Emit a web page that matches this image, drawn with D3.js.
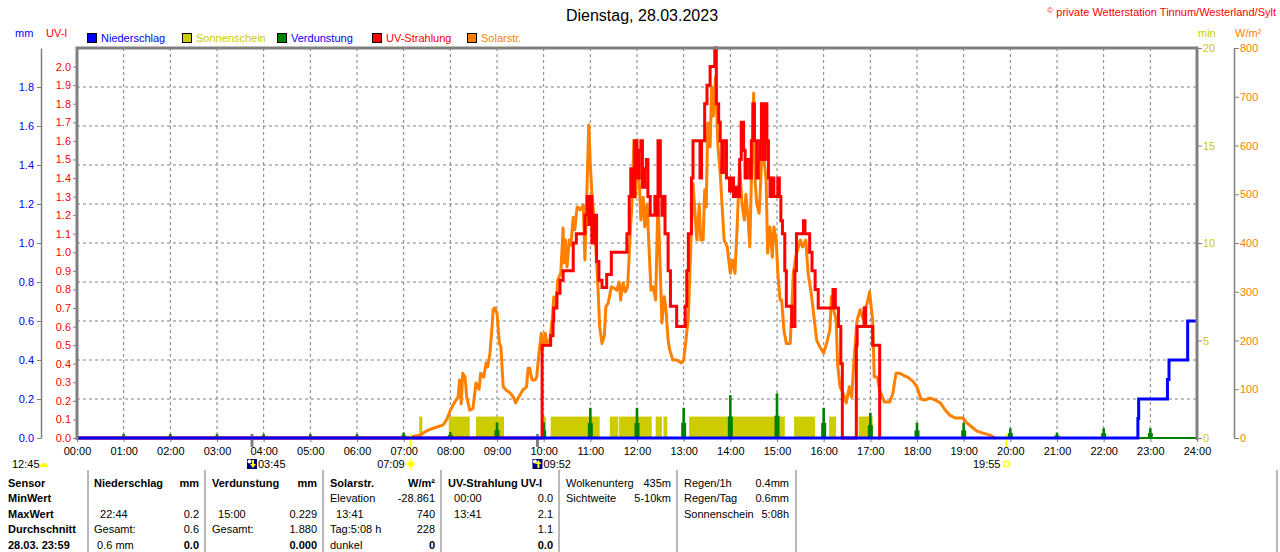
<!DOCTYPE html>
<meta charset="utf-8">
<head>
  <title>Dienstag, 28.03.2023</title>
  <style>
    body { margin: 0; background: #fff; }
    svg text { font-family: "Liberation Sans", Arial, sans-serif; font-size: 11px; }
  </style>
</head>
<body>
<script src="https://cdnjs.cloudflare.com/ajax/libs/d3/7.8.5/d3.min.js"></script>
<script>
var WIDTH = 1280,
    HEIGHT = 552,
    LEFT = 77,
    RIGHT = 1197,
    TOP = 48,
    BOTTOM = 438;

// ---- data ----
var hourTicks = d3.range(0, 25);
var mmTicks = [0, 0.2, 0.4, 0.6, 0.8, 1.0, 1.2, 1.4, 1.6, 1.8];
var uvTicks = d3.range(0, 21).map(function(d) { return d / 10; });
var minTicks = [0, 5, 10, 15, 20];
var wTicks = [0, 100, 200, 300, 400, 500, 600, 700, 800];

// Niederschlag, cumulative mm
var precipTime = ["00:00", "22:44", "22:45", "23:22", "23:24", "23:48", "24:00"];
var precipMm   = [0, 0.1, 0.2, 0.3, 0.4, 0.6, 0.6];

// Verdunstung per hour, mm
var evapHour = [1, 2, 3, 4, 5, 6, 7, 8, 9, 10, 11, 12, 13, 14, 15, 16, 17, 18, 19, 20, 21, 22, 23];
var evapMm   = [0.02, 0.02, 0.02, 0.02, 0.02, 0.02, 0.027, 0.03, 0.08, 0.08, 0.155, 0.155, 0.155,
                0.22, 0.229, 0.155, 0.13, 0.078, 0.078, 0.05, 0.027, 0.05, 0.05];

// Sonnenschein, min
var sunFrom = ["07:20", "07:58", "08:33", "09:59", "10:09", "11:25", "11:37", "12:24", "12:34", "13:07", "15:22", "16:07", "16:45"];
var sunTo   = ["07:24", "08:25", "09:09", "10:03", "11:12", "11:36", "12:19", "12:32", "12:39", "15:10", "15:49", "16:16", "17:03"];
var sunMin  = [1.1, 1.1, 1.1, 1.1, 1.1, 1.1, 1.1, 1.1, 1.1, 1.1, 1.1, 1.1, 1.1];

// UV-Strahlung, UV-I
var uvTime = ["00:00", "09:58", "10:09", "10:12", "10:13", "10:17", "10:21", "10:25", "10:38", "10:42",
  "10:53", "10:56", "10:58", "11:00", "11:02", "11:05", "11:08", "11:11", "11:15", "11:21", "11:27",
  "11:47", "11:50", "11:52", "11:55", "11:57", "12:00", "12:03", "12:05", "12:07", "12:10", "12:12",
  "12:14", "12:17", "12:23", "12:25", "12:27", "12:30", "12:32", "12:34", "12:36", "12:40", "12:43",
  "12:51", "13:02", "13:04", "13:06", "13:10", "13:12", "13:21", "13:23", "13:27", "13:30", "13:34",
  "13:40", "13:42", "13:45", "13:47", "13:49", "13:51", "13:55", "13:59", "14:01", "14:04", "14:07",
  "14:09", "14:12", "14:14", "14:17", "14:19", "14:21", "14:25", "14:27", "14:29", "14:31", "14:34",
  "14:36", "14:38", "14:40", "14:42", "14:45", "14:47", "14:49", "14:51", "14:54", "14:56", "15:01",
  "15:03", "15:05", "15:07", "15:10", "15:12", "15:19", "15:23", "15:25", "15:34", "15:36", "15:42",
  "15:45", "15:49", "15:53", "16:12", "16:15", "16:19", "16:22", "16:24", "16:42", "16:43", "16:52",
  "16:54", "17:03", "17:12", "17:13"];
var uvIndex = [0, 0.5, 0.55, 0.63, 0.7, 0.78, 0.85, 0.9, 1.05, 1.1,
  1.2, 1.3, 1.15, 1.3, 1.05, 1.2, 0.95, 0.85, 0.81, 0.88, 1.0,
  1.1, 1.3, 1.45, 1.3, 1.6, 1.4, 1.55, 1.6, 1.35, 1.45, 1.5,
  1.3, 1.2, 1.3, 1.2, 1.6, 1.3, 1.2, 1.3, 1.1, 0.9, 0.71,
  0.6, 0.71, 0.9, 1.1, 1.4, 1.6, 1.4, 1.6, 1.8, 1.9, 2.0,
  2.1, 1.8, 1.7, 1.6, 1.43, 1.6, 1.4, 1.33, 1.4, 1.3, 1.35,
  1.3, 1.5, 1.7, 1.55, 1.4, 1.5, 1.4, 1.6, 1.8, 1.6, 1.4,
  1.5, 1.6, 1.8, 1.5, 1.8, 1.6, 1.4, 1.3, 1.4, 1.3, 1.4,
  1.3, 1.17, 1.1, 0.9, 0.71, 0.6, 0.9, 1.1, 1.17, 1.1, 1.0,
  0.9, 0.8, 0.7, 0.8, 0.7, 0.6, 0.4, 0, 0.5, 0.6, 0.7,
  0.6, 0.5, 0, 0];

// Solarstrahlung, W/m2
var solarTime = ["00:00", "07:09", "07:12", "07:21", "07:30", "07:38", "07:51", "07:56", "08:00", "08:05",
  "08:10", "08:12", "08:14", "08:16", "08:19", "08:21", "08:25", "08:29", "08:33", "08:37", "08:39",
  "08:43", "08:46", "08:48", "08:51", "08:54", "08:55", "08:57", "09:00", "09:03", "09:05", "09:08",
  "09:12", "09:17", "09:21", "09:24", "09:28", "09:33", "09:38", "09:40", "09:42", "09:45", "09:49",
  "09:51", "09:54", "09:57", "09:59", "10:02", "10:04", "10:08", "10:11", "10:13", "10:16", "10:18",
  "10:22", "10:25", "10:26", "10:28", "10:30", "10:33", "10:35", "10:38", "10:40", "10:43", "10:47",
  "10:51", "10:53", "10:56", "10:58", "11:00", "11:02", "11:05", "11:07", "11:10", "11:12", "11:15",
  "11:18", "11:20", "11:23", "11:27", "11:30", "11:34", "11:37", "11:39", "11:42", "11:45", "11:48",
  "11:51", "11:54", "11:56", "11:58", "12:00", "12:03", "12:05", "12:08", "12:10", "12:13", "12:15",
  "12:18", "12:21", "12:24", "12:27", "12:30", "12:32", "12:35", "12:37", "12:40", "12:42", "12:46",
  "12:51", "12:57", "13:00", "13:03", "13:06", "13:08", "13:10", "13:12", "13:15", "13:17", "13:20",
  "13:22", "13:25", "13:27", "13:29", "13:31", "13:34", "13:36", "13:38", "13:41", "13:43", "13:44",
  "13:47", "13:49", "13:52", "13:56", "14:00", "14:03", "14:06", "14:09", "14:11", "14:12", "14:15",
  "14:18", "14:20", "14:23", "14:25", "14:28", "14:30", "14:32", "14:34", "14:37", "14:39", "14:41",
  "14:43", "14:46", "14:48", "14:51", "14:54", "14:56", "14:59", "15:01", "15:04", "15:06", "15:09",
  "15:12", "15:17", "15:21", "15:24", "15:30", "15:33", "15:37", "15:40", "15:44", "15:48", "15:51",
  "15:55", "16:00", "16:04", "16:08", "16:10", "16:12", "16:16", "16:18", "16:21", "16:25", "16:29",
  "16:33", "16:36", "16:39", "16:43", "16:47", "16:51", "16:53", "16:56", "16:59", "17:01", "17:03",
  "17:05", "17:09", "17:12", "17:18", "17:25", "17:29", "17:33", "17:38", "17:43", "17:48", "17:55",
  "18:00", "18:05", "18:10", "18:17", "18:23", "18:30", "18:36", "18:42", "18:49", "18:59", "19:04",
  "19:11", "19:17", "19:27", "19:34", "19:40", "19:41"];
var solarWm2 = [0, 0, 3, 6, 15, 20, 27, 40, 57, 72,
  84, 119, 70, 133, 125, 84, 57, 60, 113, 100, 133,
  125, 154, 146, 174, 236, 263, 267, 256, 195, 187, 105,
  98, 92, 84, 72, 84, 98, 105, 143, 143, 119, 119,
  125, 174, 215, 187, 215, 195, 201, 242, 289, 269, 324,
  338, 431, 359, 406, 351, 406, 396, 453, 427, 474, 468,
  478, 365, 529, 642, 560, 502, 447, 392, 303, 228, 194,
  210, 269, 277, 310, 308, 303, 320, 283, 318, 300, 310,
  412, 494, 611, 494, 560, 523, 447, 494, 433, 480, 406,
  303, 310, 283, 494, 338, 236, 290, 269, 201, 181, 160,
  160, 154, 160, 201, 248, 338, 433, 523, 450, 406, 480,
  406, 406, 509, 474, 646, 597, 720, 660, 740, 646, 600,
  543, 488, 406, 392, 338, 365, 338, 441, 529, 556, 480,
  447, 500, 447, 392, 591, 707, 523, 480, 461, 523, 611,
  577, 529, 379, 433, 371, 433, 406, 340, 283, 283, 220,
  194, 194, 338, 371, 406, 392, 406, 338, 297, 242, 201,
  187, 174, 195, 222, 290, 269, 242, 150, 105, 92, 72,
  105, 84, 160, 242, 263, 242, 263, 277, 300, 270, 242,
  125, 125, 98, 74, 74, 92, 133, 133, 128, 125, 116,
  105, 80, 78, 82, 78, 72, 58, 47, 41, 41, 31,
  22, 14, 9, 6, 0, 0];

var legendNames = ["Niederschlag", "Sonnenschein", "Verdunstung", "UV-Strahlung", "Solarstr."];
var legendFill  = ["#0000ff", "#cccc00", "#008000", "#ff0000", "#ff8000"];
var legendText  = ["#0000ff", "#cccc00", "#0000ff", "#ff0000", "#ff8000"];

// sun / moon events under the time axis
var eventTime = ["03:45", "07:09", "09:52", "19:55"];
var eventKind = ["moonset", "sunrise", "moonrise", "sunset"];

// table below the chart
var sensorRows = ["Sensor", "MinWert", "MaxWert", "Durchschnitt", "28.03. 23:59"];
var precipCol = [["Niederschlag", "mm"], ["", ""], ["  22:44", "0.2"], ["Gesamt:", "0.6"], [" 0.6 mm", "0.0"]];
var evapCol   = [["Verdunstung", "mm"], ["", ""], ["  15:00", "0.229"], ["Gesamt:", "1.880"], ["", "0.000"]];
var solarCol  = [["Solarstr.", "W/m\u00b2"], ["Elevation", "-28.861"], ["  13:41", "740"], ["Tag:5:08 h", "228"], ["dunkel", "0"]];
var uvCol     = [["UV-Strahlung UV-I", ""], ["  00:00", "0.0"], ["  13:41", "2.1"], ["", "1.1"], ["", "0.0"]];
var cloudCol  = [["Wolkenunterg", "435m"], ["Sichtweite", "5-10km"]];
var rainCol   = [["Regen/1h", "0.4mm"], ["Regen/Tag", "0.6mm"], ["Sonnenschein", "5:08h"]];

// ---- helpers ----
function hours(s) {
  var p = s.split(":");
  return +p[0] + (+p[1]) / 60;
}
function zip(t, v) {
  return t.map(function(d, i) { return { t: hours(d), v: v[i] }; });
}

var svg = d3.select("body").append("svg")
    .attr("width", WIDTH)
    .attr("height", HEIGHT);

var x = d3.scaleLinear().domain([0, 24]).range([LEFT, RIGHT]);
var yMm = d3.scaleLinear().domain([0, 2.0]).range([BOTTOM, TOP]);
var yUv = d3.scaleLinear().domain([0, 2.1]).range([BOTTOM, TOP]);
var yMin = d3.scaleLinear().domain([0, 20]).range([BOTTOM, TOP]);
var yW = d3.scaleLinear().domain([0, 800]).range([BOTTOM, TOP]);

// title & header texts
svg.append("text").attr("x", 642).attr("y", 21).attr("text-anchor", "middle")
    .style("font-size", "16px").text("Dienstag, 28.03.2023");

var copy = svg.append("text").attr("x", 1276).attr("y", 16).attr("text-anchor", "end")
    .attr("fill", "#ff0000");
copy.append("tspan").style("font-size", "8px").attr("dy", -3).text("\u00a9");
copy.append("tspan").attr("dy", 3).text(" private Wetterstation Tinnum/Westerland/Sylt");

svg.append("text").attr("x", 15).attr("y", 37).attr("fill", "#0000ff").text("mm");
svg.append("text").attr("x", 46).attr("y", 37).attr("fill", "#ff0000").text("UV-I");
svg.append("text").attr("x", 1198).attr("y", 37).attr("fill", "#cccc00").text("min");
svg.append("text").attr("x", 1235).attr("y", 37).attr("fill", "#ff8000").text("W/m\u00b2");

var legend = svg.append("g").selectAll("g").data(legendNames).join("g")
    .attr("transform", function(d, i) { return "translate(" + (87 + i * 95) + ",33)"; });
legend.append("rect").attr("x", 0.5).attr("y", 0.5).attr("width", 9).attr("height", 9)
    .attr("fill", function(d, i) { return legendFill[i]; })
    .attr("stroke", "#000");
legend.append("text").attr("x", 14).attr("y", 9)
    .attr("fill", function(d, i) { return legendText[i]; })
    .text(function(d) { return d; });

// grid
var grid = svg.append("g").attr("stroke", "#808080").attr("stroke-dasharray", "3,3");
grid.selectAll("line.v").data(hourTicks.slice(1, 24)).join("line")
    .attr("x1", function(d) { return x(d); }).attr("x2", function(d) { return x(d); })
    .attr("y1", TOP).attr("y2", BOTTOM);
grid.selectAll("line.h").data(mmTicks.slice(1)).join("line")
    .attr("x1", LEFT).attr("x2", RIGHT)
    .attr("y1", function(d) { return yMm(d); }).attr("y2", function(d) { return yMm(d); });

// axes
function styleAxis(g, color) {
  g.selectAll(".domain").attr("stroke", "#808080").attr("stroke-width", 1.5);
  g.selectAll(".tick line").attr("stroke", "#808080");
  g.selectAll(".tick text").attr("fill", color).style("font-size", "11px")
      .style("font-family", '"Liberation Sans", Arial, sans-serif');
}
var fmt1 = d3.format(".1f");

svg.append("g").attr("transform", "translate(41,0)")
    .call(d3.axisLeft(yMm).tickValues(mmTicks).tickFormat(fmt1).tickSize(4).tickPadding(3).tickSizeOuter(0))
    .call(styleAxis, "#0000ff");

svg.append("g").attr("transform", "translate(" + LEFT + ",0)")
    .call(d3.axisLeft(yUv).tickValues(uvTicks).tickFormat(fmt1).tickSize(4).tickPadding(2).tickSizeOuter(0))
    .call(styleAxis, "#ff0000")
    .call(function(g) { g.select(".domain").remove(); });

svg.append("g").attr("transform", "translate(" + RIGHT + ",0)")
    .call(d3.axisRight(yMin).tickValues(minTicks).tickSize(5).tickPadding(1).tickSizeOuter(0))
    .call(styleAxis, "#cccc00")
    .call(function(g) { g.select(".domain").remove(); });

svg.append("g").attr("transform", "translate(1234,0)")
    .call(d3.axisRight(yW).tickValues(wTicks).tickSize(5).tickPadding(1).tickSizeOuter(0))
    .call(styleAxis, "#ff8000");

svg.append("g").attr("transform", "translate(0," + BOTTOM + ")")
    .call(d3.axisBottom(x).tickValues(hourTicks)
      .tickFormat(function(d) { return d3.format("02")(d) + ":00"; })
      .tickSize(4).tickPadding(5).tickSizeOuter(0))
    .call(styleAxis, "#000")
    .call(function(g) { g.select(".domain").remove(); });

// Sonnenschein bars
svg.append("g").attr("fill", "#cccc00").selectAll("rect")
    .data(sunFrom.map(function(d, i) { return { a: hours(d), b: hours(sunTo[i]), v: sunMin[i] }; }))
    .join("rect")
    .attr("x", function(d) { return x(d.a); })
    .attr("width", function(d) { return x(d.b) - x(d.a); })
    .attr("y", function(d) { return yMin(d.v); })
    .attr("height", function(d) { return yMin(0) - yMin(d.v); });

// Verdunstung hourly spikes
var evap = svg.append("g").attr("fill", "#008000").selectAll("g")
    .data(evapHour.map(function(h, i) { return { h: h, v: evapMm[i] }; }))
    .join("g");
evap.append("rect")
    .attr("x", function(d) { return x(d.h) - 2.5; }).attr("width", 5)
    .attr("y", function(d) { return yMm(d.v / 2); })
    .attr("height", function(d) { return yMm(0) - yMm(d.v / 2); });
evap.append("rect")
    .attr("x", function(d) { return x(d.h) - 1.3; }).attr("width", 2.6)
    .attr("y", function(d) { return yMm(d.v); })
    .attr("height", function(d) { return yMm(0) - yMm(d.v); });

// Solarstrahlung
svg.append("path").datum(zip(solarTime, solarWm2))
    .attr("fill", "none").attr("stroke", "#ff8000").attr("stroke-width", 3)
    .attr("stroke-linejoin", "round")
    .attr("d", d3.line().x(function(d) { return x(d.t); }).y(function(d) { return yW(d.v); }));

// UV-Strahlung
svg.append("path").datum(zip(uvTime, uvIndex))
    .attr("fill", "none").attr("stroke", "#ff0000").attr("stroke-width", 3)
    .attr("d", d3.line().curve(d3.curveStepAfter)
      .x(function(d) { return x(d.t); }).y(function(d) { return yUv(d.v); }));

// Verdunstung baseline
svg.append("line").attr("x1", x(0)).attr("x2", x(24)).attr("y1", yMm(0)).attr("y2", yMm(0))
    .attr("stroke", "#008000").attr("stroke-width", 2);

// event markers on the time axis
var ev = svg.append("g").selectAll("g")
    .data(eventTime.map(function(d, i) { return { t: hours(d), label: d, kind: eventKind[i] }; }))
    .join("g");
ev.append("line")
    .attr("x1", function(d) { return x(d.t); }).attr("x2", function(d) { return x(d.t); })
    .attr("y1", 434).attr("y2", 447)
    .attr("stroke", function(d) { return d.kind.indexOf("moon") === 0 ? "#808080" : "#ffff00"; })
    .attr("stroke-width", function(d) { return d.kind.indexOf("moon") === 0 ? 3 : 2; });

ev.each(function(d) {
  var g = d3.select(this), cx = x(d.t);
  if (d.kind.indexOf("moon") === 0) {
    g.append("rect").attr("x", cx - 5).attr("y", 459).attr("width", 10).attr("height", 10)
        .attr("fill", "#00007f");
    g.append("circle").attr("cx", cx - 2.5).attr("cy", 461.5).attr("r", 2).attr("fill", "#fff");
    var up = d.kind === "moonrise";
    g.append("path").attr("fill", "#ffff00")
        .attr("d", up
          ? "M" + (cx + 1) + ",460 l3,4 h-2 v4 h-2 v-4 h-2 z"
          : "M" + (cx + 1) + ",468 l3,-4 h-2 v-4 h-2 v4 h-2 z");
    g.append("text").attr("x", cx + 6).attr("y", 468).text(d.label);
  } else {
    if (d.kind === "sunrise") {
      g.append("circle").attr("cx", cx).attr("cy", 464).attr("r", 3).attr("fill", "#ffff00");
      g.selectAll("line.ray").data(d3.range(8)).join("line")
          .attr("x1", function(k) { return cx + 3.5 * Math.cos(k * Math.PI / 4); })
          .attr("y1", function(k) { return 464 + 3.5 * Math.sin(k * Math.PI / 4); })
          .attr("x2", function(k) { return cx + 5.5 * Math.cos(k * Math.PI / 4); })
          .attr("y2", function(k) { return 464 + 5.5 * Math.sin(k * Math.PI / 4); })
          .attr("stroke", "#ffff00");
    } else {
      g.append("rect").attr("x", cx - 2.5).attr("y", 461.5).attr("width", 5).attr("height", 5)
          .attr("fill", "none").attr("stroke", "#ffff00").attr("stroke-width", 1.2);
    }
    g.append("text").attr("x", cx - 6).attr("y", 468).attr("text-anchor", "end").text(d.label);
  }
});

svg.append("text").attr("x", 12).attr("y", 468).text("12:45");
svg.append("path").attr("fill", "#ffff00").attr("d", "M40,467 a4,4 0 0 1 8,0 z");

// Niederschlag (drawn last, it lies on the baseline)
svg.append("path").datum(zip(precipTime, precipMm))
    .attr("fill", "none").attr("stroke", "#0000ff").attr("stroke-width", 3)
    .attr("d", d3.line().curve(d3.curveStepAfter)
      .x(function(d) { return x(d.t); }).y(function(d) { return yMm(d.v); }));

// frame
svg.append("path").attr("fill", "none").attr("stroke", "#808080").attr("stroke-width", 3)
    .attr("d", "M" + LEFT + "," + (BOTTOM + 2) + "V" + TOP + "H" + RIGHT + "V" + (BOTTOM + 2));

// ---- table ----
var table = svg.append("g");
[88, 205, 323, 441, 559, 677, 796, 1277].forEach(function(lx) {
  table.append("line").attr("x1", lx).attr("x2", lx).attr("y1", 470).attr("y2", HEIGHT)
      .attr("stroke", "#a0a0a0").attr("stroke-width", 1.5);
});
function rowY(i) { return 487 + i * 15.4; }

table.selectAll("text.sensor").data(sensorRows).join("text")
    .attr("x", 8).attr("y", function(d, i) { return rowY(i); })
    .style("font-weight", "bold").text(function(d) { return d; });

function column(rows, left, right, boldHead, boldLast) {
  rows.forEach(function(r, i) {
    var bl = boldHead && i === 0;
    var br = (boldHead && i === 0) || (boldLast && i === 4);
    table.append("text").attr("x", left).attr("y", rowY(i))
        .style("white-space", "pre").style("font-weight", bl ? "bold" : "normal").text(r[0]);
    table.append("text").attr("x", right).attr("y", rowY(i)).attr("text-anchor", "end")
        .style("font-weight", br ? "bold" : "normal").text(r[1]);
  });
}
column(precipCol, 94, 199, true, true);
column(evapCol, 212, 317, true, true);
column(solarCol, 330, 435, true, true);
column(uvCol, 448, 553, true, true);
column(cloudCol, 566, 671, false, false);
column(rainCol, 684, 789, false, false);
</script>
</body>
